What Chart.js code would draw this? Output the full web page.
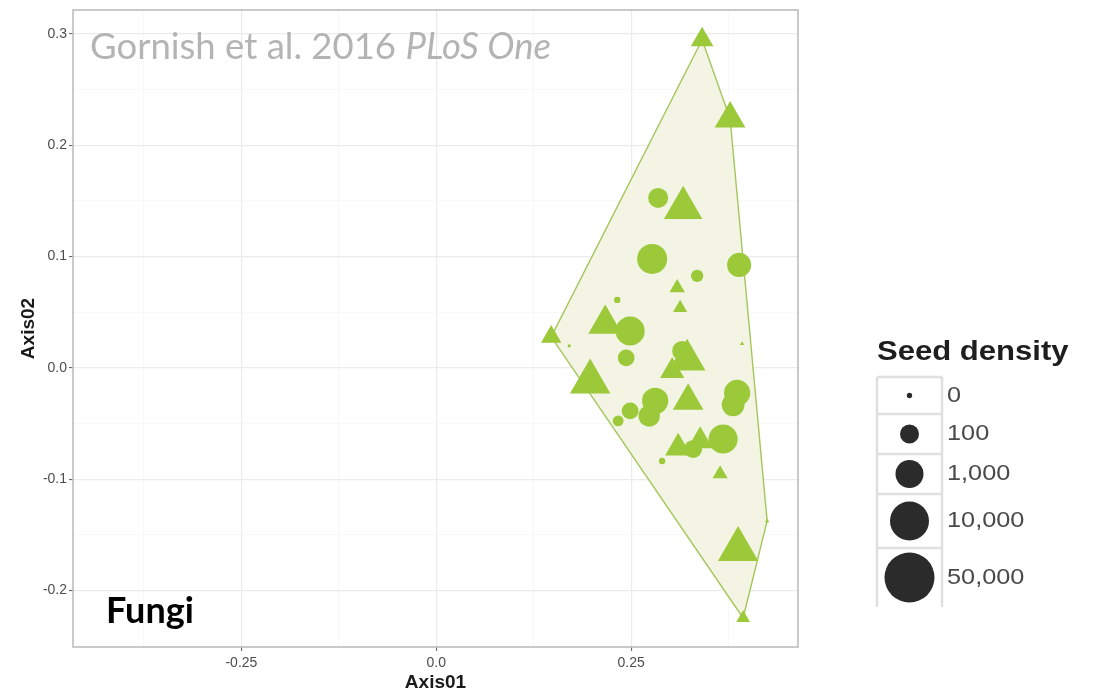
<!DOCTYPE html>
<html>
<head>
<meta charset="utf-8">
<script src="https://cdn.jsdelivr.net/npm/chart.js@4.4.1/dist/chart.umd.min.js"></script>
<style>
  html, body { margin: 0; padding: 0; background: #ffffff; }
  canvas { display: block; }
</style>
</head>
<body>
<canvas id="ordination" width="1094" height="690"></canvas>
<script>
// Fungal community ordination: site scores on Axis01 / Axis02, seed density per plot
const circleAxis1   = [0.2846, 0.2769, 0.3346, 0.3885, 0.2321, 0.2487, 0.1705, 0.2436, 0.3154,
                       0.3859, 0.3808, 0.2808, 0.2731, 0.2487, 0.2333, 0.3679, 0.3295, 0.2897];
const circleAxis2   = [0.1527, 0.0979, 0.0827, 0.0925, 0.0611, 0.0332, 0.0198, 0.0090, 0.0153,
                       -0.0225, -0.0332, -0.0296, -0.0431, -0.0386, -0.0476, -0.0638, -0.0728, -0.0836];
const circleDensity = [3000, 50000, 150, 12000, 5, 40000, 0, 1000, 3000,
                       20000, 8000, 20000, 5000, 1000, 70, 40000, 1500, 5];

const triangleAxis1   = [0.3410, 0.3769, 0.3167, 0.3090, 0.3128, 0.2167, 0.1474, 0.1974, 0.3218,
                         0.3026, 0.3923, 0.3231, 0.3103, 0.3385, 0.3641, 0.3872, 0.4244, 0.3936];
const triangleAxis2   = [0.2948, 0.2239, 0.1438, 0.0719, 0.0539, 0.0395, 0.0279, -0.0126, 0.0072,
                         -0.0027, 0.0216, -0.0296, -0.0719, -0.0656, -0.0952, -0.1630, -0.1375, -0.2246];
const triangleDensity = [1000, 8000, 35000, 100, 60, 15000, 500, 50000, 25000,
                         1500, 0, 8000, 2500, 2000, 90, 50000, 0, 50];

const densityBreaks = [0, 100, 1000, 10000, 50000];
const densityLabels = ['0', '100', '1,000', '10,000', '50,000'];

const xTicks = [-0.25, 0, 0.25];
const xTickLabels = ['-0.25', '0.0', '0.25'];
const yTicks = [-0.2, -0.1, 0, 0.1, 0.2, 0.3];
const yTickLabels = ['-0.2', '-0.1', '0.0', '0.1', '0.2', '0.3'];
const xLimits = [-0.466, 0.464];
const yLimits = [-0.2507, 0.3215];

// ---- styling ----
const GREEN = '#9bc93a';
const HULL_FILL = '#f3f4e3';
const HULL_LINE = '#a5c65c';
const BREAK_RADII = [1.6, 5.7, 8.4, 11.7, 15];   // circle radius (px) at each density break
const TRIANGLE_FACTOR = 1.555;                     // equal-area triangle vs circle
const KEY_SCALE = 1.667;

// size scale: interpolate radius on log10(1 + density) between the breaks
function sizeScale(d) {
  const t = Math.log10(1 + d);
  const knots = densityBreaks.map(b => Math.log10(1 + b));
  if (t <= knots[0]) return BREAK_RADII[0];
  for (let i = 1; i < knots.length; i++) {
    if (t <= knots[i]) {
      const f = (t - knots[i - 1]) / (knots[i] - knots[i - 1]);
      return BREAK_RADII[i - 1] + f * (BREAK_RADII[i] - BREAK_RADII[i - 1]);
    }
  }
  return BREAK_RADII[BREAK_RADII.length - 1];
}

const circlePts = circleAxis1.map((x, i) => ({ x, y: circleAxis2[i], d: circleDensity[i] }));
const trianglePts = triangleAxis1.map((x, i) => ({ x, y: triangleAxis2[i], d: triangleDensity[i] }));

// convex hull (monotone chain) around every site
function convexHull(pts) {
  const p = pts.slice().sort((a, b) => a.x - b.x || a.y - b.y);
  const cross = (o, a, b) => (a.x - o.x) * (b.y - o.y) - (a.y - o.y) * (b.x - o.x);
  const lower = [], upper = [];
  for (const q of p) {
    while (lower.length >= 2 && cross(lower[lower.length - 2], lower[lower.length - 1], q) <= 0) lower.pop();
    lower.push(q);
  }
  for (let i = p.length - 1; i >= 0; i--) {
    const q = p[i];
    while (upper.length >= 2 && cross(upper[upper.length - 2], upper[upper.length - 1], q) <= 0) upper.pop();
    upper.push(q);
  }
  upper.pop(); lower.pop();
  return lower.concat(upper);
}
const hull = convexHull(circlePts.concat(trianglePts)).map(p => ({ x: p.x, y: p.y }));
hull.push({ x: hull[0].x, y: hull[0].y });

function gridSteps(lo, hi, step) {
  const out = [];
  for (let v = Math.ceil(lo / step - 1e-9) * step; v <= hi + 1e-9; v += step) out.push(Math.round(v * 1000) / 1000);
  return out;
}
const near = (a, b) => Math.abs(a - b) < 1e-6;
const majorIndex = (list, v) => list.findIndex(t => near(t, v));

const AXIS_FONT = '"Liberation Sans", Arial, Helvetica, sans-serif';

// panel border, annotations and density key
const decorations = {
  id: 'decorations',
  afterDatasetsDraw(chart) {
    const { ctx, chartArea: a } = chart;
    ctx.save();
    ctx.strokeStyle = '#bdbdbd';
    ctx.lineWidth = 1.6;
    ctx.strokeRect(a.left, a.top, a.right - a.left, a.bottom - a.top);
    ctx.restore();
  },
  afterDraw(chart) {
    const ctx = chart.ctx;
    ctx.save();
    // citation
    ctx.textBaseline = 'alphabetic';
    ctx.textAlign = 'left';
    ctx.fillStyle = '#b4b4b4';
    ctx.font = '36.5px Lato, "Open Sans", sans-serif';
    const part1 = 'Gornish et al. 2016 ';
    ctx.fillText(part1, 90, 59);
    const w1 = ctx.measureText(part1).width;
    ctx.font = 'italic 36.5px Lato, "Open Sans", sans-serif';
    ctx.fillText('PLoS One', 90 + w1, 59);

    // panel label
    ctx.fillStyle = '#000000';
    ctx.font = 'bold 36px Lato, "Open Sans", sans-serif';
    ctx.fillText('Fungi', 106, 623);

    // density key
    const keyLeft = 877, keyRight = 942, keyTop = 377;
    const rowH = [37, 40, 40, 54, 59];
    ctx.save();
    ctx.translate(877, 353);
    ctx.scale(1.15, 1);
    ctx.fillStyle = '#1e1e1e';
    ctx.font = 'bold 27px ' + AXIS_FONT;
    ctx.textBaseline = 'middle';
    ctx.fillText('Seed density', 0, 0);
    ctx.restore();

    ctx.strokeStyle = '#e0e0e0';
    ctx.lineWidth = 2.5;
    let y = keyTop;
    const bottom = keyTop + rowH.reduce((s, h) => s + h, 0);
    ctx.beginPath();
    ctx.moveTo(keyLeft, keyTop); ctx.lineTo(keyLeft, bottom);
    ctx.moveTo(keyRight, keyTop); ctx.lineTo(keyRight, bottom);
    for (let i = 0; i < rowH.length; i++) {
      ctx.moveTo(keyLeft, y); ctx.lineTo(keyRight, y);
      y += rowH[i];
    }
    ctx.stroke();

    y = keyTop;
    for (let i = 0; i < densityBreaks.length; i++) {
      const cy = y + rowH[i] / 2;
      const r = sizeScale(densityBreaks[i]) * KEY_SCALE;
      ctx.fillStyle = '#2b2b2b';
      ctx.beginPath();
      ctx.arc((keyLeft + keyRight) / 2, cy, r, 0, Math.PI * 2);
      ctx.fill();
      ctx.save();
      ctx.translate(947, cy);
      ctx.scale(1.15, 1);
      ctx.fillStyle = '#4a4a4a';
      ctx.font = '22px ' + AXIS_FONT;
      ctx.textBaseline = 'middle';
      ctx.fillText(densityLabels[i], 0, 0);
      ctx.restore();
      y += rowH[i];
    }
    ctx.restore();
  }
};

new Chart(document.getElementById('ordination'), {
  type: 'scatter',
  data: {
    datasets: [
      {
        label: 'circles',
        data: circlePts,
        pointStyle: 'circle',
        backgroundColor: GREEN,
        borderWidth: 0,
        pointRadius: c => sizeScale(c.raw.d),
        order: 1
      },
      {
        label: 'triangles',
        data: trianglePts,
        pointStyle: 'triangle',
        backgroundColor: GREEN,
        borderWidth: 0,
        pointRadius: c => sizeScale(c.raw.d) * TRIANGLE_FACTOR,
        order: 2
      },
      {
        type: 'line',
        label: 'hull',
        data: hull,
        showLine: true,
        tension: 0,
        fill: 'shape',
        backgroundColor: HULL_FILL,
        borderColor: HULL_LINE,
        borderWidth: 1.4,
        pointRadius: 0,
        order: 3
      }
    ]
  },
  options: {
    responsive: false,
    animation: false,
    events: [],
    layout: { autoPadding: false, padding: { left: 0, right: 296, top: 10, bottom: 0 } },
    plugins: { legend: { display: false }, tooltip: { enabled: false } },
    scales: {
      x: {
        type: 'linear',
        min: xLimits[0], max: xLimits[1],
        afterBuildTicks: s => { s.ticks = gridSteps(xLimits[0], xLimits[1], 0.125).map(v => ({ value: v })); },
        afterFit: s => { s.height = 43; s.paddingLeft = 0; s.paddingRight = 0; },
        border: { display: false },
        grid: {
          color: c => majorIndex(xTicks, c.tick.value) >= 0 ? '#ebebeb' : '#f6f6f6',
          lineWidth: c => majorIndex(xTicks, c.tick.value) >= 0 ? 1.2 : 0.8,
          tickColor: c => majorIndex(xTicks, c.tick.value) >= 0 ? '#5a5a5a' : 'rgba(0,0,0,0)',
          tickLength: 4,
          tickWidth: 1
        },
        ticks: {
          autoSkip: false, maxRotation: 0, padding: 4,
          color: '#4d4d4d',
          font: { family: AXIS_FONT, size: 14 },
          callback: v => { const k = majorIndex(xTicks, v); return k >= 0 ? xTickLabels[k] : ''; }
        },
        title: {
          display: true, text: 'Axis01', color: '#1a1a1a',
          font: { family: AXIS_FONT, size: 19, weight: 'bold' },
          padding: { top: 0, bottom: -4 }
        }
      },
      y: {
        type: 'linear',
        min: yLimits[0], max: yLimits[1],
        afterBuildTicks: s => { s.ticks = gridSteps(yLimits[0], yLimits[1], 0.05).map(v => ({ value: v })); },
        afterFit: s => { s.width = 73; s.paddingTop = 0; s.paddingBottom = 0; },
        border: { display: false },
        grid: {
          color: c => majorIndex(yTicks, c.tick.value) >= 0 ? '#ebebeb' : '#f6f6f6',
          lineWidth: c => majorIndex(yTicks, c.tick.value) >= 0 ? 1.2 : 0.8,
          tickColor: c => majorIndex(yTicks, c.tick.value) >= 0 ? '#5a5a5a' : 'rgba(0,0,0,0)',
          tickLength: 4,
          tickWidth: 1
        },
        ticks: {
          autoSkip: false, padding: 2,
          color: '#4d4d4d',
          font: { family: AXIS_FONT, size: 14 },
          callback: v => { const k = majorIndex(yTicks, v); return k >= 0 ? yTickLabels[k] : ''; }
        },
        title: {
          display: true, text: 'Axis02', color: '#1a1a1a',
          font: { family: AXIS_FONT, size: 19, weight: 'bold' },
          padding: { top: 17, bottom: 0 }
        }
      }
    }
  },
  plugins: [decorations]
});
</script>
</body>
</html>
